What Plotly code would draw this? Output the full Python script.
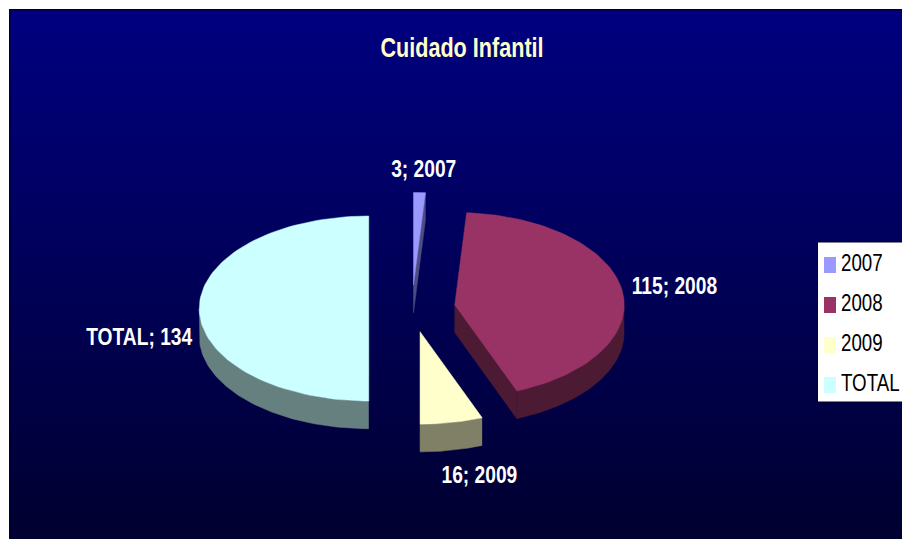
import numpy as np
import plotly.graph_objects as go

categories = ["2007", "2008", "2009", "TOTAL"]
values = [3, 115, 16, 134]
top_colors = ["#9999FF", "#993366", "#FFFFCC", "#CCFFFF"]
side_colors = ["#4D4D80", "#4D1A33", "#808066", "#668080"]
title_text = "Cuidado Infantil"

W, H = 902, 539
CX, CY, RX, RY = 412.0, 308.5, 169.5, 92.5
DEPTH = 27.7 / RY
EXPLODE = 0.255
FONT = "Liberation Sans, Arial"


def px(x):
    return (x - CX) / RX


def py(y):
    return (CY - y) / RY


def pap_x(x):
    return x / W


def pap_y(y):
    return 1 - y / H


def rim(a, b, n=90):
    t = np.radians(np.linspace(a, b, n))
    return np.sin(t), np.cos(t)


fig = go.Figure()

# background panel
bx0, bx1, by0, by1 = px(10.5), px(W), py(H), py(10.5)
fig.add_shape(type="rect", xref="x", yref="y", x0=px(9), x1=px(W), y0=by0, y1=py(9),
              fillcolor="#000033", line_width=0, layer="below")
fig.add_trace(go.Scatter(
    x=[bx0, bx1, bx1, bx0, bx0], y=[by0, by0, by1, by1, by0],
    mode="lines", fill="toself", line=dict(width=0), hoverinfo="skip", showlegend=False,
    fillgradient=dict(type="vertical",
                      colorscale=[[0, "rgb(0,0,48)"], [1, "rgb(0,0,128)"]]),
))

# slices
total = sum(values)
edges = np.concatenate([[0], np.cumsum(values) / total * 360])
sides, tops = [], []
for i, v in enumerate(values):
    a, b = edges[i], edges[i + 1]
    m = np.radians((a + b) / 2)
    ox, oy = EXPLODE * np.sin(m), EXPLODE * np.cos(m)
    xr, yr = rim(a, b)
    tops.append((ox + np.r_[0, xr, 0], oy + np.r_[0, yr, 0], top_colors[i], categories[i]))
    fa, fb = max(a, 90), min(b, 270)
    if fa < fb:
        xf, yf = rim(fa, fb)
        sides.append((ox + np.r_[xf, xf[::-1]],
                      oy + np.r_[yf, yf[::-1] - DEPTH], side_colors[i], categories[i]))
    for ang, sign in ((a, -1), (b, 1)):
        s = np.sin(np.radians(ang)) * sign
        if s > 1e-6:
            ex, ey = np.sin(np.radians(ang)), np.cos(np.radians(ang))
            sides.append((ox + np.array([0, ex, ex, 0, 0]),
                          oy + np.array([0, ey, ey - DEPTH, -DEPTH, 0]),
                          side_colors[i], categories[i]))

for x, y, c, name in sides + tops:
    fig.add_trace(go.Scatter(x=x, y=y, mode="lines", fill="toself", fillcolor=c,
                             line=dict(color=c, width=0.5), name=name,
                             hoverinfo="name", showlegend=False))

# data labels
label_pos = [(423, 168), (674, 285), (480, 474), (139, 336)]
for cat, v, (lx, ly) in zip(categories, values, label_pos):
    fig.add_annotation(x=pap_x(lx), y=pap_y(ly), xref="paper", yref="paper",
                       xanchor="center", yanchor="middle",
                       text=f"{v}; {cat}" if cat != "TOTAL" else f"{cat}; {v}",
                       showarrow=False,
                       font=dict(family=FONT, size=24, color="#FFFFFF", weight="bold"))

# title
fig.add_annotation(x=pap_x(462), y=pap_y(48.5), xref="paper", yref="paper",
                   xanchor="center", yanchor="middle",
                   text=title_text, showarrow=False,
                   font=dict(family=FONT, size=27, color="#FFFFCC", weight="bold"))

# legend
lx0, lx1, ly0, ly1 = px(817.5), px(W + 2), py(402), py(242)
fig.add_trace(go.Scatter(
    x=[lx0, lx1, lx1, lx0, lx0], y=[ly0, ly0, ly1, ly1, ly0],
    mode="lines", fill="toself", fillcolor="#FFFFFF", line=dict(width=1, color="#000020"),
    hoverinfo="skip", showlegend=False,
))
leg_y = [265, 305, 345, 385]
for cat, c, ly in zip(categories, top_colors, leg_y):
    sx0, sx1, sy0, sy1 = px(824), px(836), py(ly + 8), py(ly - 8)
    fig.add_trace(go.Scatter(
        x=[sx0, sx1, sx1, sx0, sx0], y=[sy0, sy0, sy1, sy1, sy0],
        mode="lines", fill="toself", fillcolor=c, line=dict(width=0),
        name=cat, hoverinfo="name", showlegend=False,
    ))
    fig.add_annotation(x=pap_x(839), y=pap_y(ly - 3), xref="paper", yref="paper",
                       xanchor="left", yanchor="middle", align="left", text=cat,
                       showarrow=False,
                       font=dict(family=FONT, size=24, color="#000000"))

fig.update_layout(
    width=W, height=H, autosize=False,
    margin=dict(l=0, r=0, t=0, b=0),
    paper_bgcolor="#FFFFFF", plot_bgcolor="rgba(0,0,0,0)",
    showlegend=False,
    xaxis=dict(visible=False, range=[px(0), px(W)], fixedrange=True),
    yaxis=dict(visible=False, range=[py(H), py(0)], fixedrange=True),
)

# Remove the page margin, and narrow each real text element as the reference's type is.
page_js = """
document.body.style.margin = '0';
document.documentElement.style.overflow = 'hidden';
document.querySelectorAll('.annotation-text').forEach(function (t) {
  var k = t.getAttribute('style').indexOf('bold') >= 0 ? 0.80 : 0.78;
  t.setAttribute('textLength', t.getComputedTextLength() * k);
  t.setAttribute('lengthAdjust', 'spacingAndGlyphs');
});
"""
fig.write_html("out.html", config={"displayModeBar": False}, post_script=page_js)
